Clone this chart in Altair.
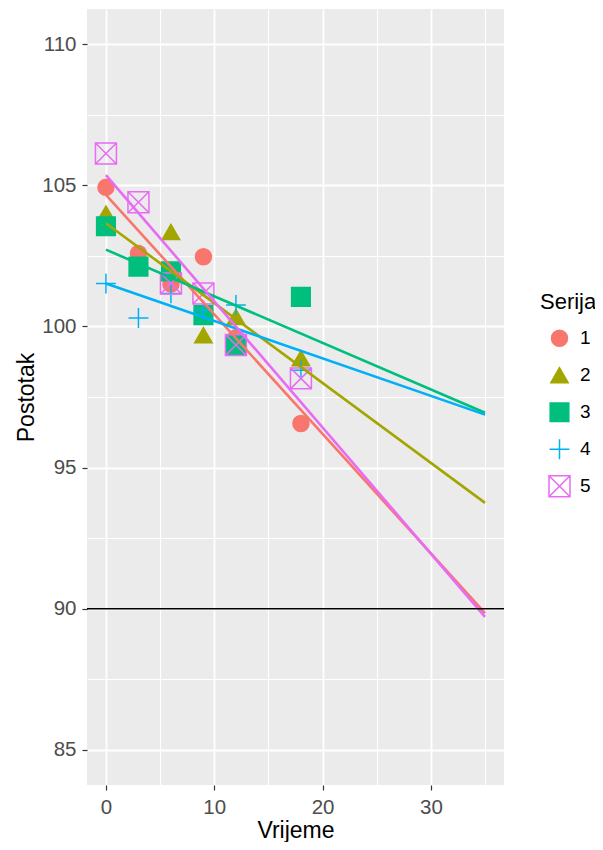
import altair as alt
import pandas as pd

# data
vrijeme = [0, 3, 6, 9, 12, 18]
serija_1 = [104.93, 102.59, 101.50, 102.47, 99.60, 96.56]
serija_2 = [104.00, 102.10, 103.35, 99.69, 100.34, 98.87]
serija_3 = [103.55, 102.12, 101.95, 100.40, 99.33, 101.05]
serija_4 = [101.52, 100.30, 101.17, 100.57, 100.76, 98.45]
serija_5 = [106.13, 104.40, 101.52, 101.17, 99.34, 98.16]
series_names = ["1", "2", "3", "4", "5"]
limit_value = [90]

colors = ["#F8766D", "#A3A500", "#00BF7D", "#00B0F6", "#E76BF3"]
fills = ["#F8766D", "#A3A500", "#00BF7D", "transparent", "transparent"]
shapes = ["circle", "triangle-up", "square",
          "M-1,0L1,0M0,-1L0,1",
          "M-1,-1L1,-1L1,1L-1,1ZM-1,-1L1,1M-1,1L1,-1"]
sizes = [255, 440, 300, 820, 400]

rows = []
for name, vals in zip(series_names, [serija_1, serija_2, serija_3, serija_4, serija_5]):
    for x, y in zip(vrijeme, vals):
        rows.append({"Vrijeme": x, "Postotak": y, "Serija": name})
df = pd.DataFrame(rows)
ref_df = pd.DataFrame({"y": limit_value})

FONT = "Liberation Sans"
TICK_FS = 20.5
TITLE_FS = 23

x_scale = alt.Scale(domain=[-1.75, 36.75], nice=False, zero=False)
y_scale = alt.Scale(domain=[83.75, 111.25], nice=False, zero=False)

x_axis = alt.Axis(values=[0, 10, 20, 30], title="Vrijeme", grid=True, orient="bottom",
                  gridColor="white", gridWidth=1.8, domain=False,
                  tickColor="#333333", tickSize=5, tickWidth=1.2,
                  labelColor="#4D4D4D", labelFontSize=TICK_FS, labelPadding=7,
                  titleFontSize=TITLE_FS, titleFontWeight="normal",
                  titleColor="black", titleBaseline="alphabetic", titleY=52,
                  labelFont=FONT, titleFont=FONT)
y_axis = alt.Axis(values=[85, 90, 95, 100, 105, 110], title="Postotak", grid=True,
                  orient="left", gridColor="white", gridWidth=1.8, domain=False,
                  tickColor="#333333", tickSize=5, tickWidth=1.2,
                  labelColor="#4D4D4D", labelFontSize=TICK_FS, labelPadding=6,
                  titleFontSize=TITLE_FS, titleFontWeight="normal",
                  titleColor="black", titleBaseline="alphabetic", titleX=-54,
                  labelFont=FONT, titleFont=FONT)

base = alt.Chart(df)

# minor grid lines (axis only, no labels)
minor = base.mark_point(opacity=0).encode(
    x=alt.X("Vrijeme:Q", scale=x_scale,
            axis=alt.Axis(values=[5, 15, 25, 35], grid=True, gridColor="white",
                          orient="bottom", gridWidth=1.0, labels=False,
                          ticks=False, domain=False, title=None)),
    y=alt.Y("Postotak:Q", scale=y_scale,
            axis=alt.Axis(values=[87.5, 92.5, 97.5, 102.5, 107.5], grid=True,
                          orient="left", gridColor="white", gridWidth=1.0,
                          labels=False, ticks=False, domain=False, title=None)),
)

legend = alt.Legend(title="Serija", orient="none", legendX=453, legendY=283,
                    titleFontSize=22, titleFontWeight="normal", titleFont=FONT,
                    titleColor="black", labelFontSize=19, labelFont=FONT,
                    labelColor="black", rowPadding=0, clipHeight=36.5,
                    titlePadding=6, symbolStrokeWidth=1.5, symbolOffset=8,
                    labelOffset=9)

points = base.mark_point(filled=False, strokeWidth=1.5, opacity=1).encode(
    x=alt.X("Vrijeme:Q", scale=x_scale, axis=x_axis),
    y=alt.Y("Postotak:Q", scale=y_scale, axis=y_axis),
    stroke=alt.Stroke("Serija:N", scale=alt.Scale(domain=series_names, range=colors),
                      legend=legend),
    fill=alt.Fill("Serija:N", scale=alt.Scale(domain=series_names, range=fills),
                  legend=legend),
    shape=alt.Shape("Serija:N", scale=alt.Scale(domain=series_names, range=shapes),
                    legend=legend),
    size=alt.Size("Serija:N", scale=alt.Scale(domain=series_names, range=sizes),
                  legend=legend),
)

lines = base.transform_regression(
    "Vrijeme", "Postotak", groupby=["Serija"], extent=[0, 35]
).mark_line(strokeWidth=2.6).encode(
    x=alt.X("Vrijeme:Q", scale=x_scale, axis=None),
    y=alt.Y("Postotak:Q", scale=y_scale, axis=None),
    color=alt.Color("Serija:N", scale=alt.Scale(domain=series_names, range=colors),
                    legend=None),
)

hline = alt.Chart(ref_df).mark_rule(color="black", strokeWidth=1.5).encode(
    y=alt.Y("y:Q", scale=y_scale, axis=None)
)

chart = alt.layer(minor, points, lines, hline).resolve_scale(
    color="independent"
).resolve_axis(
    x="independent", y="independent"
).properties(
    width=417, height=776,
    padding={"left": 79, "top": 1, "right": 91, "bottom": 57},
    autosize=alt.AutoSizeParams(type="none"),
    background="white",
).configure_view(
    fill="#EBEBEB", stroke=None
).configure_axis(
    labelFont=FONT, titleFont=FONT
)

chart.save("out.html", embed_options={"renderer": "svg", "actions": False})
